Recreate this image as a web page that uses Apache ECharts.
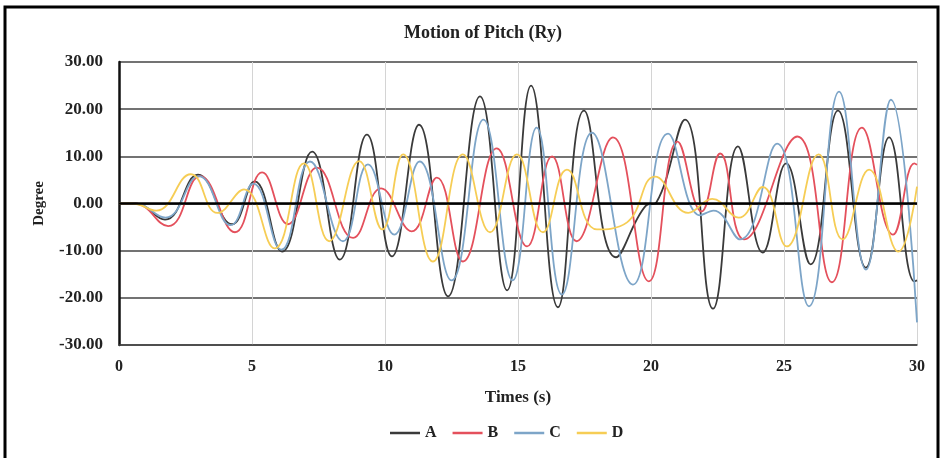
<!DOCTYPE html>
<html>
<head>
<meta charset="utf-8">
<script src="https://cdn.jsdelivr.net/npm/echarts@6/dist/echarts.min.js"></script>
<style>
  html, body { margin: 0; padding: 0; background: #fff; }
  #chart { width: 942px; height: 458px; }
</style>
</head>
<body>
<div id="chart"></div>
<script>
// time (s), pitch (deg): peaks, troughs and flat parts
const seriesNames = ['A', 'B', 'C', 'D']
const colors = ['#3a3a3a', '#e4505c', '#7da5c8', '#f6cd55']

const dataA = [[0,0],[0.6,0],[1.73,-3.4],[2.97,6.1],[4.25,-4.4],[5.1,4.7],[6.13,-10.2],[7.26,11.0],[8.3,-11.9],[9.32,14.6],[10.26,-11.2],[11.28,16.7],[12.37,-19.7],[13.57,22.7],[14.59,-18.4],[15.49,25.0],[16.5,-22.0],[17.48,19.7],[18.68,-11.4],[19.8,-0.5],[20.2,0.2],[21.28,17.8],[22.33,-22.3],[23.27,12.1],[24.2,-10.4],[25.08,8.5],[26.0,-12.9],[27.03,19.7],[28.08,-13.6],[28.95,14.0],[29.9,-16.5],[30,-16.3]]
const dataB = [[0,0],[0.6,0],[1.85,-4.8],[3.05,5.8],[4.36,-6.1],[5.38,6.6],[6.35,-4.4],[7.44,7.6],[8.8,-7.3],[9.85,3.2],[11.0,-5.9],[11.95,5.5],[12.93,-12.3],[14.2,11.7],[15.34,-9.1],[16.28,10.0],[17.2,-8.0],[18.57,14.0],[19.92,-16.5],[21.0,13.1],[21.9,-1.7],[22.6,10.6],[23.5,-7.6],[25.5,14.2],[26.8,-16.7],[27.93,16.1],[29.1,-6.6],[29.9,8.5],[30,8.2]]
const dataC = [[0,0],[0.6,0],[1.75,-3.0],[3.0,5.8],[4.2,-4.6],[5.05,4.2],[6.1,-9.8],[7.18,8.9],[8.42,-8.0],[9.36,8.3],[10.35,-6.6],[11.3,8.9],[12.5,-16.3],[13.7,17.8],[14.8,-16.3],[15.7,16.1],[16.65,-19.3],[17.78,15.0],[19.32,-17.2],[20.64,14.8],[21.85,-2.5],[22.35,-1.5],[23.35,-7.6],[24.74,12.7],[25.94,-21.8],[27.07,23.7],[28.08,-14.0],[29.02,22.0],[30,-25.2]]
const dataD = [[0,0],[0.5,0],[1.4,-1.5],[2.7,6.2],[3.7,-2.0],[4.7,3.0],[5.85,-9.5],[6.95,8.5],[7.9,-8.0],[9.03,9.0],[9.9,-5.5],[10.68,10.4],[11.8,-12.3],[12.93,10.4],[13.95,-6.1],[14.96,10.4],[15.94,-6.1],[16.84,7.2],[17.97,-5.5],[19.1,-4.0],[20.15,5.7],[21.4,-2.0],[22.3,1.0],[23.3,-3.0],[24.2,3.5],[25.1,-9.1],[26.3,10.4],[27.2,-7.6],[28.2,7.2],[29.3,-10.2],[30,3.6]]
const allData = [dataA, dataB, dataC, dataD]

const xTicks = { min: 0, max: 30, step: 5 }
const yTicks = { min: -30, max: 30, step: 10 }

const serif = 'Liberation Serif'
const txt = size => ({ fontFamily: serif, fontWeight: 'bold', fontSize: size, color: '#222' })
const chart = echarts.init(document.getElementById('chart'))

const series = seriesNames.map((name, i) => ({
  name,
  type: 'line',
  data: allData[i],
  symbol: 'none',
  smooth: 0.45,
  lineStyle: { color: colors[i], width: 1.8 },
  itemStyle: { color: colors[i] },
  z: 3
}))
// heavy zero line, drawn over the curves
series[0].markLine = {
  silent: true,
  symbol: 'none',
  label: { show: false },
  lineStyle: { color: '#000', width: 2.5, type: 'solid' },
  data: [{ yAxis: 0 }]
}

chart.setOption({
  animation: false,
  backgroundColor: '#fff',
  title: {
    text: 'Motion of Pitch (Ry)',
    left: 478, top: 19, textAlign: 'center',
    textStyle: txt(18)
  },
  grid: { left: 119, right: 25, top: 62, bottom: 113 },
  legend: {
    bottom: 12, left: 385,
    icon: 'rect', itemWidth: 30, itemHeight: 2.5, itemGap: 16,
    textStyle: txt(16),
    data: seriesNames
  },
  xAxis: {
    type: 'value', min: xTicks.min, max: xTicks.max, interval: xTicks.step,
    name: 'Times (s)', nameLocation: 'middle', nameGap: 44,
    nameTextStyle: txt(17),
    axisLine: { onZero: false, lineStyle: { color: '#444', width: 1.5 } },
    axisTick: { show: false },
    axisLabel: Object.assign(txt(16), { margin: 14 }),
    splitLine: { show: true, lineStyle: { color: '#d4d4d4', width: 1 } }
  },
  yAxis: {
    type: 'value', min: yTicks.min, max: yTicks.max, interval: yTicks.step,
    name: 'Degree', nameLocation: 'middle', nameGap: 72, nameRotate: 90,
    nameTextStyle: txt(15),
    axisLine: { show: true, lineStyle: { color: '#111', width: 2.5 } },
    axisTick: { show: false },
    axisLabel: Object.assign(txt(17), { margin: 16, formatter: v => v.toFixed(2) }),
    splitLine: { show: true, lineStyle: { color: '#444', width: 1.5 } }
  },
  graphic: [{
    type: 'rect', silent: true,
    shape: { x: 5, y: 7, width: 933, height: 470 },
    style: { fill: 'none', stroke: '#000', lineWidth: 3 }
  }],
  series
})
</script>
</body>
</html>
